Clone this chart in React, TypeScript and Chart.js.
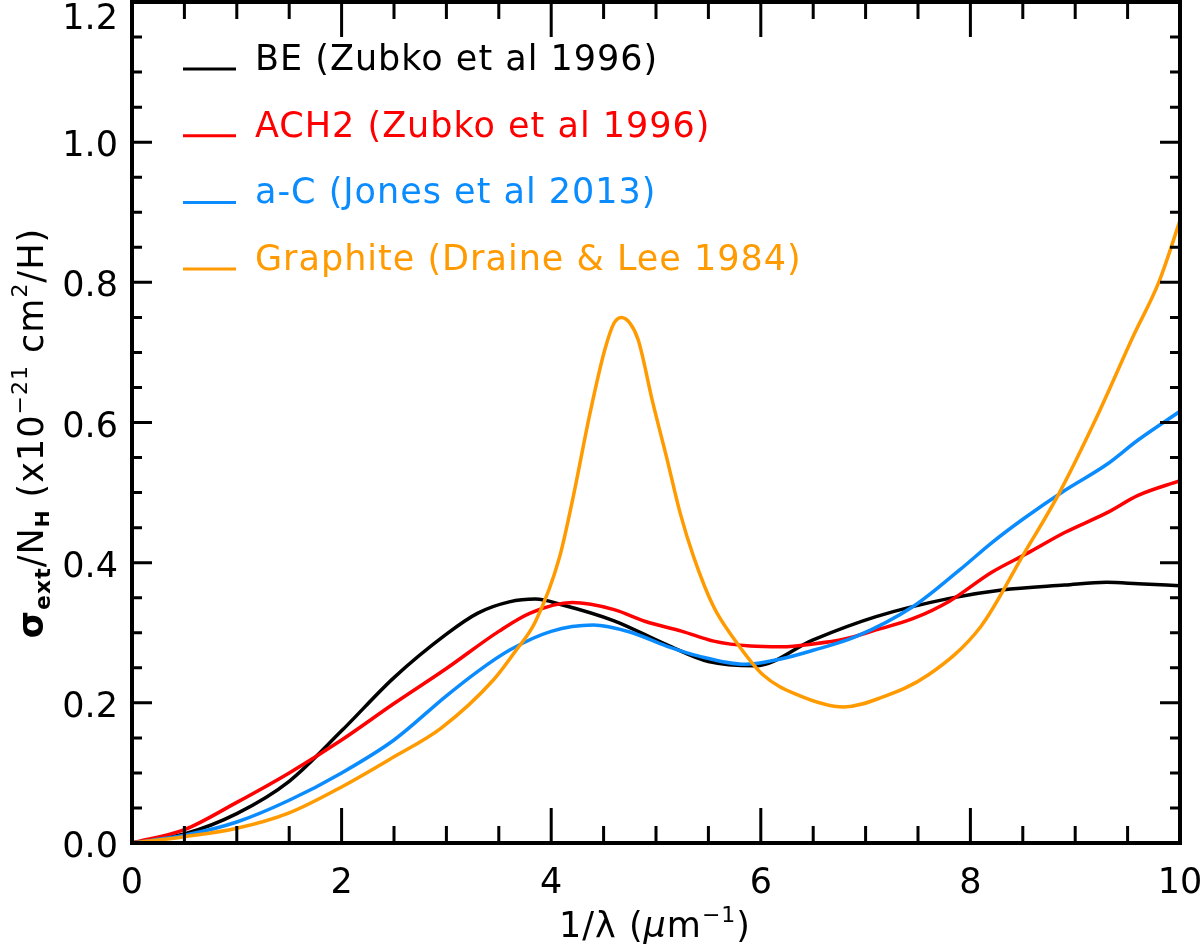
import { useEffect, useRef } from "react";
import { Chart, registerables } from "chart.js";

Chart.register(...registerables);

// valores (1/lambda em um^-1, sigma/NH em 1e-21 cm2/H)
const beX = [0, 0.5, 1, 1.5, 2, 2.5, 3, 3.3, 3.6, 3.85, 4.1, 4.6, 5.1, 5.5, 5.95, 6.5, 7.1, 7.8, 8.3, 8.9, 9.3, 9.6, 10];
const beY = [0, 0.013, 0.042, 0.088, 0.16, 0.236, 0.298, 0.328, 0.344, 0.348, 0.34, 0.317, 0.283, 0.259, 0.253, 0.29, 0.323, 0.349, 0.361, 0.368, 0.372, 0.37, 0.367];

const ach2X = [0, 0.5, 1, 1.5, 2, 2.5, 3, 3.5, 3.8, 4.2, 4.6, 4.9, 5.25, 5.55, 5.9, 6.2, 6.5, 6.8, 7.1, 7.45, 7.8, 8.2, 8.55, 8.9, 9.3, 9.6, 10];
const ach2Y = [0, 0.019, 0.058, 0.1, 0.147, 0.199, 0.249, 0.302, 0.328, 0.343, 0.333, 0.316, 0.302, 0.288, 0.281, 0.28, 0.284, 0.291, 0.304, 0.32, 0.345, 0.386, 0.414, 0.443, 0.471, 0.496, 0.517];

const acX = [0, 0.5, 1, 1.5, 2, 2.5, 3, 3.3, 3.6, 4, 4.4, 4.75, 5.1, 5.4, 5.85, 6.2, 6.5, 6.9, 7.45, 7.9, 8.2, 8.5, 8.9, 9.3, 9.6, 10];
const acY = [0, 0.011, 0.03, 0.061, 0.1, 0.147, 0.21, 0.245, 0.275, 0.302, 0.311, 0.301, 0.281, 0.267, 0.255, 0.263, 0.275, 0.294, 0.337, 0.39, 0.428, 0.462, 0.503, 0.54, 0.575, 0.616];

const grX = [0, 0.5, 1, 1.5, 2, 2.5, 2.95, 3.45, 3.65, 3.85, 4.08, 4.21, 4.37, 4.51, 4.6, 4.67, 4.75, 4.83, 4.97, 5.1, 5.23, 5.36, 5.55, 5.75, 6.02, 6.34, 6.79, 7.14, 7.6, 8.1, 8.5, 8.85, 9.2, 9.55, 9.8, 10];
const grY = [0, 0.009, 0.021, 0.043, 0.08, 0.123, 0.164, 0.233, 0.272, 0.316, 0.408, 0.494, 0.613, 0.703, 0.742, 0.75, 0.742, 0.718, 0.628, 0.551, 0.471, 0.408, 0.337, 0.29, 0.24, 0.212, 0.194, 0.207, 0.24, 0.309, 0.41, 0.5, 0.606, 0.722, 0.801, 0.888];

const seriesLabels = [
  "BE (Zubko et al 1996)",
  "ACH2 (Zubko et al 1996)",
  "a-C (Jones et al 2013)",
  "Graphite (Draine & Lee 1984)",
];
const seriesColors = ["#000000", "#ff0000", "#0a8cff", "#ff9a00"];

const xTicks = [0, 2, 4, 6, 8, 10];
const xTickLabels = ["0", "2", "4", "6", "8", "10"];
const yTicks = [0, 0.2, 0.4, 0.6, 0.8, 1.0, 1.2];
const yTickLabels = ["0.0", "0.2", "0.4", "0.6", "0.8", "1.0", "1.2"];

const FONT = '"DejaVu Sans"';

type Part = { text: string; size: number; bold?: boolean; italic?: boolean; shift?: number };

function drawRich(ctx: CanvasRenderingContext2D, parts: Part[], cx: number, cy: number, rotate: boolean) {
  const fontOf = (p: Part) => `${p.italic ? "italic " : ""}${p.bold ? "bold " : ""}${p.size}px ${FONT}`;
  ctx.save();
  ctx.translate(cx, cy);
  if (rotate) ctx.rotate(-Math.PI / 2);
  ctx.textAlign = "left";
  ctx.textBaseline = "alphabetic";
  ctx.fillStyle = "#000";
  (ctx as any).letterSpacing = "1px";
  let total = 0;
  const widths = parts.map((p) => {
    ctx.font = fontOf(p);
    const w = ctx.measureText(p.text).width;
    total += w;
    return w;
  });
  let x = -total / 2;
  parts.forEach((p, i) => {
    ctx.font = fontOf(p);
    ctx.fillText(p.text, x, p.shift ?? 0);
    x += widths[i];
  });
  ctx.restore();
}

const framePlugin = {
  id: "idlFrame",
  afterDraw(chart: Chart) {
    const { ctx, chartArea: a, scales } = chart;
    const xs = scales.x;
    const ys = scales.y;
    ctx.save();
    ctx.strokeStyle = "#000";

    // ticks para dentro nos quatro lados
    ctx.lineWidth = 3;
    ctx.beginPath();
    for (let i = 0; i <= 20; i++) {
      const v = i * 0.5;
      const px = xs.getPixelForValue(v);
      const len = i % 4 === 0 ? 35 : 17;
      ctx.moveTo(px, a.bottom);
      ctx.lineTo(px, a.bottom - len);
      ctx.moveTo(px, a.top);
      ctx.lineTo(px, a.top + len);
    }
    for (let i = 0; i <= 24; i++) {
      const v = i * 0.05;
      const py = ys.getPixelForValue(v);
      const len = i % 4 === 0 ? 20 : 10;
      ctx.moveTo(a.left, py);
      ctx.lineTo(a.left + len, py);
      ctx.moveTo(a.right, py);
      ctx.lineTo(a.right - len, py);
    }
    ctx.stroke();

    ctx.lineWidth = 4;
    ctx.strokeRect(a.left, a.top, a.right - a.left, a.bottom - a.top);

    // rotulos dos eixos
    ctx.fillStyle = "#000";
    ctx.font = `35px ${FONT}`;
    ctx.textAlign = "center";
    ctx.textBaseline = "alphabetic";
    xTicks.forEach((v, i) => {
      ctx.fillText(xTickLabels[i], xs.getPixelForValue(v), 893);
    });
    ctx.textAlign = "right";
    yTicks.forEach((v, i) => {
      const py = Math.max(ys.getPixelForValue(v) + 14, 29);
      ctx.fillText(yTickLabels[i], 118, py);
    });

    // legenda
    (ctx as any).letterSpacing = "1px";
    seriesLabels.forEach((label, i) => {
      const y = 69 + i * 66.7;
      ctx.strokeStyle = seriesColors[i];
      ctx.lineWidth = 3;
      ctx.beginPath();
      ctx.moveTo(183, y);
      ctx.lineTo(236, y);
      ctx.stroke();
      ctx.fillStyle = seriesColors[i];
      ctx.textAlign = "left";
      ctx.font = `35px ${FONT}`;
      ctx.fillText(label, 255, y + 1);
    });
    (ctx as any).letterSpacing = "0px";
    ctx.restore();

    drawRich(
      ctx,
      [
        { text: "1/λ (", size: 35 },
        { text: "μ", size: 35, italic: true },
        { text: "m", size: 35 },
        { text: "−1", size: 22, shift: -15 },
        { text: ")", size: 35 },
      ],
      655,
      937,
      false
    );

    drawRich(
      ctx,
      [
        { text: "σ", size: 35, bold: true },
        { text: "ext", size: 22, bold: true, shift: 7 },
        { text: "/N", size: 35 },
        { text: "H", size: 20, bold: true, shift: 6 },
        { text: " (x10", size: 35 },
        { text: "−21", size: 22, shift: -16 },
        { text: " cm", size: 35 },
        { text: "2", size: 22, shift: -16 },
        { text: "/H)", size: 35 },
      ],
      43,
      433,
      true
    );
  },
};

export default function App() {
  const canvasRef = useRef<HTMLCanvasElement>(null);
  const chartRef = useRef<Chart | null>(null);

  useEffect(() => {
    document.body.style.margin = "0";
    if (!canvasRef.current) return;

    const pairs = (xs: number[], ys: number[]) => xs.map((x, i) => ({ x, y: ys[i] }));
    const data = {
      datasets: [
        { label: seriesLabels[0], data: pairs(beX, beY), borderColor: seriesColors[0], order: 4 },
        { label: seriesLabels[1], data: pairs(ach2X, ach2Y), borderColor: seriesColors[1], order: 3 },
        { label: seriesLabels[2], data: pairs(acX, acY), borderColor: seriesColors[2], order: 2 },
        { label: seriesLabels[3], data: pairs(grX, grY), borderColor: seriesColors[3], order: 1 },
      ].map((d) => ({
        ...d,
        borderWidth: 3.5,
        pointRadius: 0,
        fill: false,
        cubicInterpolationMode: "monotone" as const,
      })),
    };

    if (chartRef.current) chartRef.current.destroy();
    const ctx = canvasRef.current.getContext("2d");
    if (!ctx) return;

    chartRef.current = new Chart(ctx, {
      type: "line",
      data,
      options: {
        animation: false,
        responsive: true,
        maintainAspectRatio: false,
        layout: { padding: { left: 132, right: 20, top: 2, bottom: 105 } },
        plugins: { legend: { display: false }, tooltip: { enabled: false } },
        scales: {
          x: { type: "linear", min: 0, max: 10, display: false },
          y: { type: "linear", min: 0, max: 1.2, display: false },
        },
      },
      plugins: [framePlugin],
    });

    return () => {
      if (chartRef.current) chartRef.current.destroy();
      chartRef.current = null;
    };
  }, []);

  return (
    <div style={{ width: 1200, height: 948, position: "relative", background: "#fff" }}>
      <canvas ref={canvasRef} />
    </div>
  );
}
